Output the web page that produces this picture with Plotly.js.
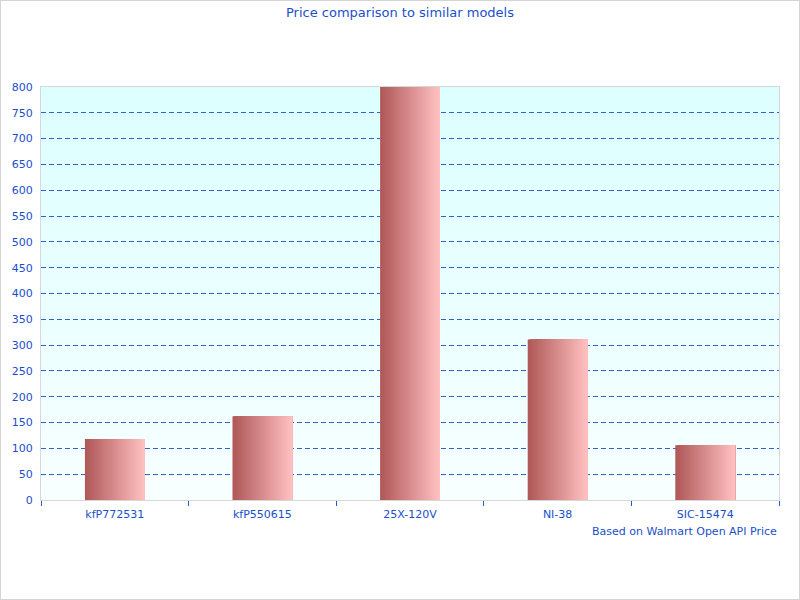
<!DOCTYPE html>
<html>
<head>
<meta charset="utf-8">
<script src="https://cdn.plot.ly/plotly-3.0.1.min.js"></script>
<style>
html,body{margin:0;padding:0;background:#fff;}
#chart{width:798px;height:598px;border:1px solid #d4d4d4;}
</style>
</head>
<body>
<div id="chart"></div>
<script>
// Data
const categories = ["kfP772531", "kfP550615", "25X-120V", "NI-38", "SIC-15474"];
const prices = [118, 162, 800, 311, 106];
const yTickVals = [0, 50, 100, 150, 200, 250, 300, 350, 400, 450, 500, 550, 600, 650, 700, 750, 800];
const chartTitle = "Price comparison to similar models";
const sourceNote = "Based on Walmart Open API Price";

// Style
const textColor = "#1a4fcc";
const gridColor = "#2f62d6";
const fontFamily = "DejaVu Sans, Verdana, sans-serif";
const barWidth = 0.405;
const nStrips = 40;
const leftRGB = [176, 88, 88];
const rightRGB = [255, 192, 192];

function lerp(a, b, t) { return Math.round(a + (b - a) * t); }

const traces = [];
const step = barWidth / nStrips;
for (let i = 0; i < nStrips; i++) {
  const t = i / (nStrips - 1);
  const c = `rgb(${lerp(leftRGB[0], rightRGB[0], t)},${lerp(leftRGB[1], rightRGB[1], t)},${lerp(leftRGB[2], rightRGB[2], t)})`;
  traces.push({
    type: "bar",
    x: categories,
    y: prices,
    width: barWidth - i * step,
    offset: -barWidth / 2 + i * step,
    marker: { color: c, line: { width: 0 } },
    hoverinfo: i === 0 ? "x+y" : "skip",
    showlegend: false
  });
}

const bgSvg = '<svg xmlns="http://www.w3.org/2000/svg" width="100" height="100" preserveAspectRatio="none">' +
  '<defs><linearGradient id="g" x1="0" y1="0" x2="0" y2="1">' +
  '<stop offset="0" stop-color="#dcffff"/><stop offset="1" stop-color="#f8ffff"/>' +
  '</linearGradient></defs><rect width="100" height="100" fill="url(#g)"/></svg>';

const layout = {
  width: 798,
  height: 598,
  margin: { l: 40, r: 20, t: 86, b: 99 },
  paper_bgcolor: "#ffffff",
  plot_bgcolor: "rgba(0,0,0,0)",
  barmode: "overlay",
  font: { family: fontFamily, size: 11, color: textColor },
  title: {
    text: chartTitle,
    font: { family: fontFamily, size: 13, color: textColor },
    x: 0.5, xanchor: "center",
    y: 1 - 11 / 598, yanchor: "middle", yref: "container"
  },
  xaxis: {
    type: "category",
    tickson: "boundaries",
    ticks: "outside",
    ticklen: 5,
    tickcolor: "#1d5fd0",
    tickwidth: 1,
    ticklabelstandoff: 4,
    showgrid: false,
    showline: true,
    linecolor: "#d8d8d8",
    linewidth: 1,
    mirror: true,
    tickfont: { family: fontFamily, size: 11, color: textColor },
    fixedrange: true
  },
  yaxis: {
    range: [0, 800],
    tickvals: yTickVals,
    ticktext: yTickVals.map(String),
    showgrid: true,
    gridcolor: gridColor,
    gridwidth: 1,
    griddash: "5px,3px",
    zeroline: false,
    showline: true,
    linecolor: "#d8d8d8",
    linewidth: 1,
    mirror: true,
    ticks: "",
    ticklabelstandoff: 5,
    tickfont: { family: fontFamily, size: 11, color: textColor },
    fixedrange: true
  },
  images: [{
    source: "data:image/svg+xml;charset=utf-8," + encodeURIComponent(bgSvg),
    xref: "paper", yref: "paper",
    x: 0, y: 1, sizex: 1, sizey: 1,
    xanchor: "left", yanchor: "top",
    sizing: "stretch",
    layer: "below"
  }],
  annotations: [{
    text: sourceNote,
    xref: "paper", yref: "paper",
    x: 1, y: -31 / 413,
    xanchor: "right", yanchor: "middle", xshift: 0, yshift: 0,
    showarrow: false,
    font: { family: fontFamily, size: 11, color: textColor }
  }]
};

Plotly.newPlot("chart", traces, layout, { displayModeBar: false, staticPlot: true });
</script>
</body>
</html>
